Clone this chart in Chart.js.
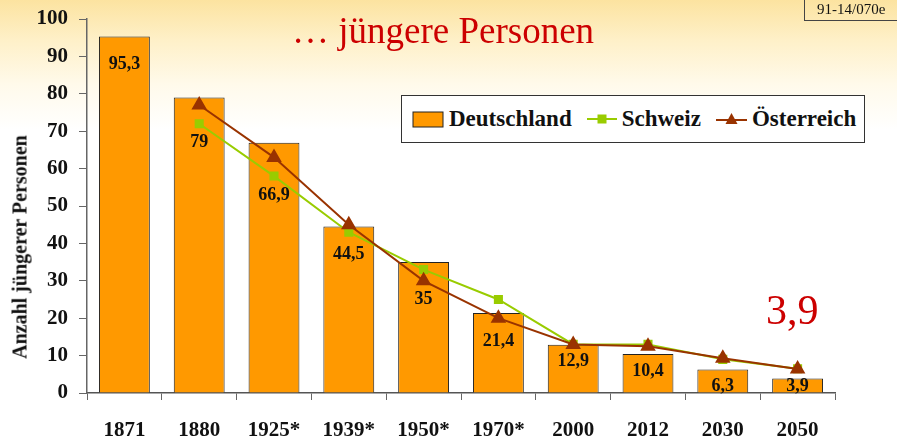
<!DOCTYPE html>
<html>
<head>
<meta charset="utf-8">
<script src="https://cdn.jsdelivr.net/npm/chart.js@4.4.0/dist/chart.umd.min.js"></script>
<style>
  html, body { margin: 0; padding: 0; }
  body {
    width: 897px; height: 443px; overflow: hidden; position: relative;
    background: linear-gradient(to bottom, #fce3a0 0px, #fef0c8 40px, #fffaeb 85px, #ffffff 130px);
    font-family: "Liberation Serif", "Times New Roman", serif;
  }
  #wrap { position: absolute; left: 0; top: 0; width: 897px; height: 443px; }
  #title { position: absolute; left: 292px; top: 12px; font-size: 37px; line-height: 37px; color: #cc0000; white-space: nowrap; }
  #code { position: absolute; left: 804px; top: -1px; width: 100px; height: 22px; border: 1px solid #444; box-sizing: border-box;
          font-size: 15px; line-height: 19px; padding-left: 12px; color: #111; }
  #big { position: absolute; left: 766px; top: 289px; font-size: 42px; line-height: 42px; color: #cc0000; }
  #ytitle { position: absolute; left: 20px; top: 247px; transform: translate(-50%, -50%) rotate(-90deg);
            font-size: 20px; font-weight: bold; white-space: nowrap; color: #111; }
  #legend { position: absolute; left: 401px; top: 95px; width: 464px; height: 48px; box-sizing: border-box;
            border: 1px solid #333; background: #fff; display: flex; align-items: center; padding-left: 10px;
            font-size: 23px; font-weight: bold; color: #111; }
  #legend .item { display: flex; align-items: center; margin-right: 15px; }
  #legend .sw { margin-right: 5px; }
</style>
</head>
<body>
<div id="wrap"><canvas id="myChart" width="897" height="443"></canvas></div>
<div id="title">… jüngere Personen</div>
<div id="code">91-14/070e</div>
<div id="big">3,9</div>
<div id="ytitle">Anzahl jüngerer Personen</div>
<div id="legend"></div>
<script>
const years = ['1871', '1880', '1925*', '1939*', '1950*', '1970*', '2000', '2012', '2030', '2050'];
const deutschland = [95.3, 79, 66.9, 44.5, 35, 21.4, 12.9, 10.4, 6.3, 3.9];
const schweiz = [null, 72, 58, 43, 33, 25, 13, 13, 9, 6.5];
const oesterreich = [null, 77, 63, 45, 30, 20, 13, 12.5, 9.3, 6.4];
const yTicks = [0, 10, 20, 30, 40, 50, 60, 70, 80, 90, 100];

const serif = '"Liberation Serif", "Times New Roman", serif';

// labels inside the bars, pushed below the line markers
const barLabels = {
  id: 'barLabels',
  afterDatasetsDraw(chart) {
    const ctx = chart.ctx;
    const bars = chart.getDatasetMeta(0).data;
    ctx.save();
    ctx.font = 'bold 18px ' + serif;
    ctx.fillStyle = '#111';
    ctx.textAlign = 'center';
    ctx.textBaseline = 'middle';
    bars.forEach((bar, i) => {
      const top = bar.y, bottom = bar.base, h = bottom - top;
      let y;
      if (h < 60) {
        y = Math.min(top + 17, bottom - 6);
      } else {
        let low = -Infinity;
        [1, 2].forEach(d => {
          const p = chart.getDatasetMeta(d).data[i];
          if (p && chart.data.datasets[d].data[i] != null) low = Math.max(low, p.y);
        });
        y = Math.max(top + 28, low + 19);
      }
      ctx.fillText(String(deutschland[i]).replace('.', ','), bar.x, y);
    });
    ctx.restore();
  }
};

const ctx = document.getElementById('myChart');
const chart = new Chart(ctx, {
  type: 'bar',
  data: {
    labels: years,
    datasets: [{
      label: 'Deutschland',
      data: deutschland,
      backgroundColor: '#ff9900',
      borderColor: '#222',
      borderWidth: 1,
      categoryPercentage: 1,
      barPercentage: 0.68,
      order: 3
    }, {
      type: 'line',
      label: 'Schweiz',
      data: schweiz,
      borderColor: '#99cc00',
      backgroundColor: '#99cc00',
      borderWidth: 2,
      pointStyle: 'rect',
      pointRadius: 5,
      tension: 0,
      order: 2
    }, {
      type: 'line',
      label: 'Österreich',
      data: oesterreich,
      borderColor: '#993300',
      backgroundColor: '#993300',
      borderWidth: 2,
      pointStyle: 'triangle',
      pointRadius: 7,
      tension: 0,
      order: 1
    }]
  },
  options: {
    responsive: false,
    animation: false,
    layout: { padding: { left: 0, top: 19, right: 62, bottom: 0 } },
    plugins: { legend: { display: false }, tooltip: { enabled: false } },
    scales: {
      x: {
        offset: true,
        grid: { offset: true, drawOnChartArea: false, drawTicks: true, tickLength: 7, color: '#666' },
        border: { color: '#555', width: 1.5 },
        ticks: { color: '#111', padding: 18, font: { family: serif, size: 21, weight: 'bold' } },
        afterFit: s => { s.height = 50; }
      },
      y: {
        min: 0,
        max: 100,
        afterBuildTicks: s => { s.ticks = yTicks.map(v => ({ value: v })); },
        grid: { drawOnChartArea: false, drawTicks: true, tickLength: 8, color: '#666' },
        border: { color: '#666', width: 1.5 },
        ticks: { color: '#111', padding: 11, font: { family: serif, size: 21, weight: 'bold', lineHeight: 0.3 } },
        afterFit: s => { s.width = 87; }
      }
    }
  },
  plugins: [barLabels]
});

// legend built from the datasets
const legend = document.getElementById('legend');
chart.data.datasets.forEach((ds, i) => {
  let sw;
  if (i === 0) {
    sw = '<svg class="sw" width="32" height="17"><rect x="1" y="1" width="30" height="15" fill="' + ds.backgroundColor + '" stroke="#222" stroke-width="1"/></svg>';
  } else if (ds.pointStyle === 'rect') {
    sw = '<svg class="sw" width="30" height="14"><line x1="0" y1="7" x2="30" y2="7" stroke="' + ds.borderColor + '" stroke-width="2"/><rect x="10.5" y="2.5" width="9" height="9" fill="' + ds.backgroundColor + '"/></svg>';
  } else {
    sw = '<svg class="sw" width="31" height="14"><line x1="0" y1="8" x2="31" y2="8" stroke="' + ds.borderColor + '" stroke-width="2"/><polygon points="15.5,1 21.5,12 9.5,12" fill="' + ds.backgroundColor + '"/></svg>';
  }
  const item = document.createElement('div');
  item.className = 'item';
  item.innerHTML = sw + '<span>' + ds.label + '</span>';
  legend.appendChild(item);
});
</script>
</body>
</html>
